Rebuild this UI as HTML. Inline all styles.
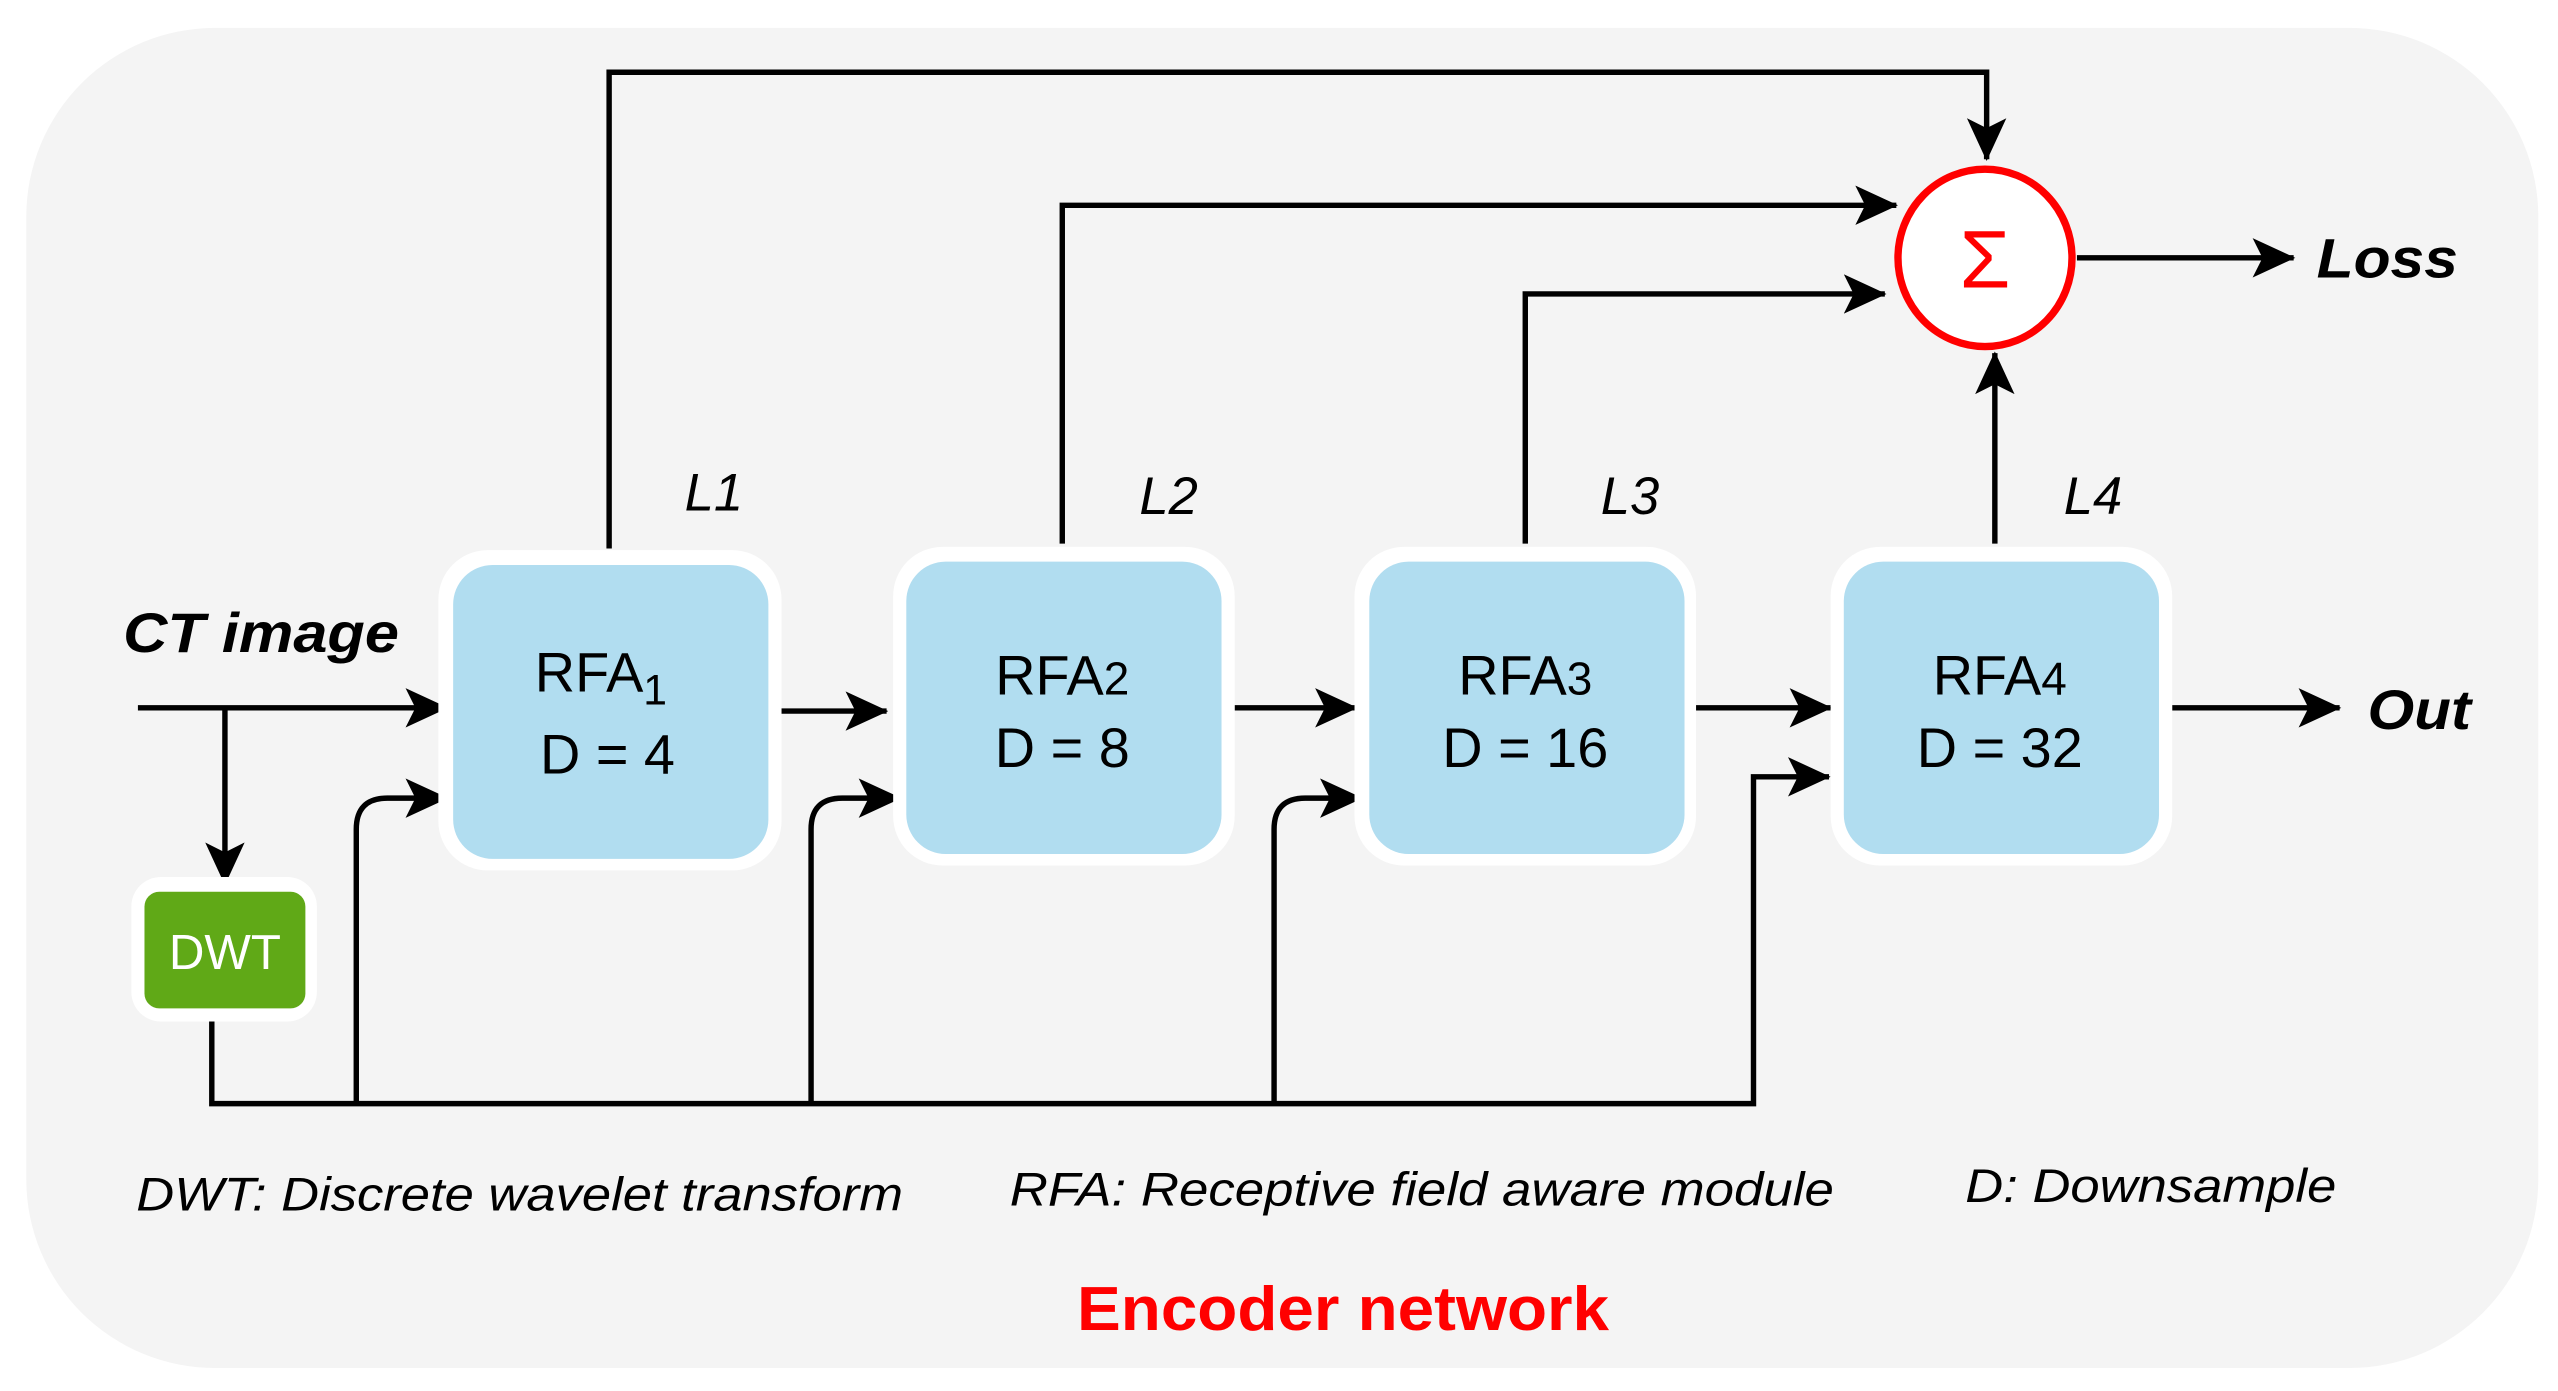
<!DOCTYPE html>
<html><head><meta charset="utf-8"><style>
html,body{margin:0;padding:0;background:#fff;}
svg{display:block;}
text{font-family:"Liberation Sans",Arial,sans-serif;}
</style></head><body>
<svg width="2558" height="1391" viewBox="0 0 1558 847" preserveAspectRatio="none" xmlns="http://www.w3.org/2000/svg">
<defs>
<marker id="a" viewBox="0 0 26 24" refX="25" refY="12" markerWidth="26" markerHeight="24" markerUnits="userSpaceOnUse" orient="auto">
<path d="M0,0 L26,12 L0,24 L6,12 Z" fill="#000"/>
</marker>
</defs>
<rect x="0" y="0" width="1558" height="847" fill="#fff"/>
<rect x="16" y="17" width="1530" height="816" rx="115" ry="115" fill="#f4f4f4"/>

<g fill="none" stroke="#000" stroke-width="3.3">
<path d="M371,334 V44 H1210 V97" marker-end="url(#a)"/>
<path d="M647,331 V125 H1155" marker-end="url(#a)"/>
<path d="M929,331 V179 H1148" marker-end="url(#a)"/>
<path d="M1215,331 V215" marker-end="url(#a)"/>
<path d="M1265,157 H1397" marker-end="url(#a)"/>
<path d="M84,431 H272" marker-end="url(#a)"/>
<path d="M137,431 V538" marker-end="url(#a)"/>
<path d="M476,433 H540" marker-end="url(#a)"/>
<path d="M752,431 H826" marker-end="url(#a)"/>
<path d="M1033,431 H1115" marker-end="url(#a)"/>
<path d="M1323,431 H1425" marker-end="url(#a)"/>
<path d="M129,622 V672 H1068 V473 H1114" marker-end="url(#a)"/>
<path d="M217,672 V505 Q217,486 236,486 H272" marker-end="url(#a)"/>
<path d="M494,672 V505 Q494,486 513,486 H548" marker-end="url(#a)"/>
<path d="M776,672 V505 Q776,486 795,486 H829" marker-end="url(#a)"/>
</g>

<ellipse cx="1209" cy="157" rx="53" ry="54" fill="#fff" stroke="#f00" stroke-width="4.5"/>
<text x="1209" y="175" font-size="50" fill="#f00" text-anchor="middle">Σ</text>

<g>
<rect x="267" y="335" width="209" height="195" rx="30" fill="#fff"/>
<rect x="276" y="344" width="192" height="179" rx="24" fill="#b1ddf0"/>
<rect x="544" y="333" width="208" height="194" rx="30" fill="#fff"/>
<rect x="552" y="342" width="192" height="178" rx="24" fill="#b1ddf0"/>
<rect x="825" y="333" width="208" height="194" rx="30" fill="#fff"/>
<rect x="834" y="342" width="192" height="178" rx="24" fill="#b1ddf0"/>
<rect x="1115" y="333" width="208" height="194" rx="30" fill="#fff"/>
<rect x="1123" y="342" width="192" height="178" rx="24" fill="#b1ddf0"/>
<rect x="80" y="534" width="113" height="88" rx="18" fill="#fff"/>
<rect x="88" y="543" width="98" height="71" rx="9" fill="#60a917"/>
</g>

<g font-size="34" fill="#000" text-anchor="middle">
<text x="366" y="421">RFA<tspan font-size="26" dy="8">1</tspan></text>
<text x="370" y="471">D = 4</text>
<text x="647" y="423">RFA<tspan font-size="28">2</tspan></text>
<text x="647" y="467">D = 8</text>
<text x="929" y="423">RFA<tspan font-size="28">3</tspan></text>
<text x="929" y="467">D = 16</text>
<text x="1218" y="423">RFA<tspan font-size="28">4</tspan></text>
<text x="1218" y="467">D = 32</text>
</g>
<text x="137" y="590" font-size="30" fill="#fff" text-anchor="middle">DWT</text>

<g font-style="italic" font-size="32" fill="#000">
<text x="417" y="311">L1</text>
<text x="694" y="313">L2</text>
<text x="975" y="313">L3</text>
<text x="1257" y="313">L4</text>
</g>
<g font-style="italic" font-weight="bold" font-size="34" fill="#000">
<text x="75" y="397" textLength="168" lengthAdjust="spacingAndGlyphs">CT image</text>
<text x="1411" y="169" textLength="86" lengthAdjust="spacingAndGlyphs">Loss</text>
<text x="1442" y="444" textLength="63" lengthAdjust="spacingAndGlyphs">Out</text>
</g>
<g font-style="italic" font-size="29" fill="#000">
<text x="83" y="737" textLength="467" lengthAdjust="spacingAndGlyphs">DWT: Discrete wavelet transform</text>
<text x="615" y="734" textLength="502" lengthAdjust="spacingAndGlyphs">RFA: Receptive field aware module</text>
<text x="1197" y="732" textLength="226" lengthAdjust="spacingAndGlyphs">D: Downsample</text>
</g>
<text x="818" y="810" font-size="38" font-weight="bold" fill="#f00" text-anchor="middle" textLength="324" lengthAdjust="spacingAndGlyphs">Encoder network</text>
</svg>
</body></html>
